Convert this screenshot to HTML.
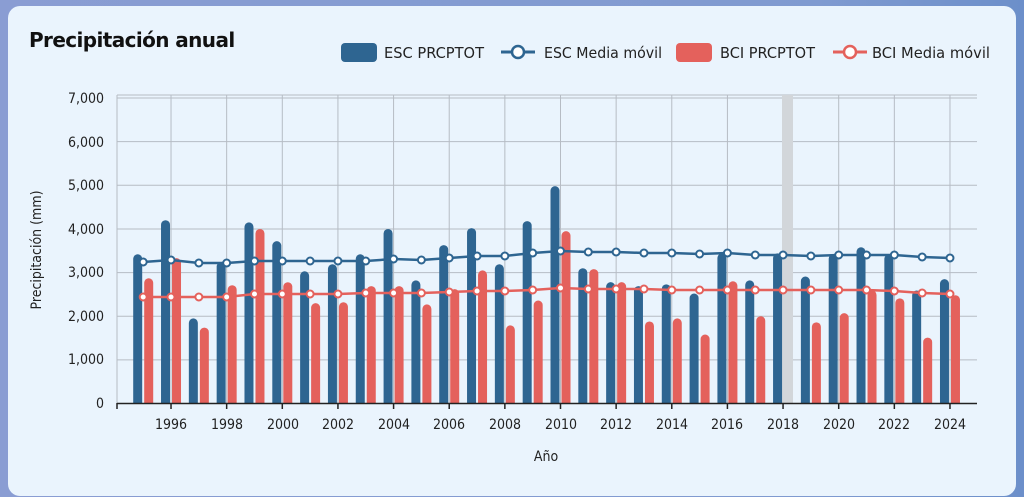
<!DOCTYPE html>
<html><head><meta charset="utf-8"><style>
html,body{margin:0;padding:0;width:1024px;height:497px;overflow:hidden;background:linear-gradient(90deg,#8a9dd3,#7f9ad0 80%,#6c8fca);font-family:"Liberation Sans",sans-serif}
.card{position:absolute;left:8px;top:6px;width:1008px;height:490px;background:#eaf4fd;border-radius:12px}
svg{position:absolute;left:0;top:0}
text{font-family:"DejaVu Sans Condensed","Liberation Sans",sans-serif;fill:#222}
</style></head><body>
<div class="card"></div>
<svg width="1024" height="497" id="s">
<text x="29" y="47" style="font-family:'DejaVu Sans','Liberation Sans',sans-serif;font-weight:bold;font-size:20px;fill:#111;letter-spacing:-0.6px">Precipitación anual</text>
<g>
<rect x="341" y="43" width="36" height="19" rx="4" fill="#2e6591"/>
<text x="384" y="58" textLength="100" lengthAdjust="spacingAndGlyphs" style="font-size:15px">ESC PRCPTOT</text>
<line x1="501" y1="52" x2="535" y2="52" stroke="#2e6591" stroke-width="3"/>
<circle cx="518" cy="52" r="6" fill="#fff" stroke="#2e6591" stroke-width="2.5"/>
<text x="544" y="58" textLength="118" lengthAdjust="spacingAndGlyphs" style="font-size:15px">ESC Media móvil</text>
<rect x="676" y="43" width="36" height="19" rx="4" fill="#e4615c"/>
<text x="720" y="58" textLength="95" lengthAdjust="spacingAndGlyphs" style="font-size:15px">BCI PRCPTOT</text>
<line x1="833" y1="52" x2="867" y2="52" stroke="#e4615c" stroke-width="3"/>
<circle cx="850" cy="52" r="6" fill="#fff" stroke="#e4615c" stroke-width="2.5"/>
<text x="872" y="58" textLength="118" lengthAdjust="spacingAndGlyphs" style="font-size:15px">BCI Media móvil</text>
</g>
<g id="grid"></g>
<g text-anchor="end" style="font-size:14px">
<text x="104" y="103">7,000</text><text x="104" y="147">6,000</text><text x="104" y="190">5,000</text><text x="104" y="234">4,000</text><text x="104" y="277">3,000</text><text x="104" y="321">2,000</text><text x="104" y="364">1,000</text><text x="104" y="408">0</text>
</g>
<g text-anchor="middle" style="font-size:14px">
<text x="171" y="429">1996</text><text x="227" y="429">1998</text><text x="283" y="429">2000</text><text x="338" y="429">2002</text><text x="394" y="429">2004</text><text x="449" y="429">2006</text><text x="505" y="429">2008</text><text x="561" y="429">2010</text><text x="616" y="429">2012</text><text x="672" y="429">2014</text><text x="727" y="429">2016</text><text x="783" y="429">2018</text><text x="839" y="429">2020</text><text x="894" y="429">2022</text><text x="950" y="429">2024</text>
<text x="546" y="461">Año</text>
<text transform="translate(41,250) rotate(-90)" style="font-size:14px">Precipitación (mm)</text>
</g>
</svg>
<script>
var s=document.getElementById('s'),g=document.getElementById('grid'),NS='http://www.w3.org/2000/svg';
function el(t,a,p){var e=document.createElementNS(NS,t);for(var k in a)e.setAttribute(k,a[k]);(p||g).appendChild(e);return e;}
var X=function(i){return 143.2+i*27.82},Y=function(v){return 403.5-v*0.04364};
for(var v=0;v<=7000;v+=1000)el('line',{x1:117,x2:977,y1:Y(v),y2:Y(v),stroke:'#b6bcc4','stroke-width':1});
el('line',{x1:117,x2:977,y1:95,y2:95,stroke:'#b6bcc4'});
el('line',{x1:117,x2:117,y1:95,y2:403,stroke:'#b6bcc4'});
for(var i=1;i<30;i+=2)el('line',{x1:X(i),x2:X(i),y1:95,y2:403,stroke:'#b6bcc4'});
el('rect',{x:782,y:95,width:11,height:308,fill:'#d2d6da'});
var E=[3420,4200,1950,3240,4150,3720,3030,3190,3420,4000,2820,3630,4020,3190,4180,4980,3100,2780,2690,2730,2520,3440,2820,3440,2910,3420,3580,3420,2590,2850];
var B=[2870,3330,1740,2710,4000,2780,2300,2320,2690,2690,2270,2620,3050,1790,2360,3950,3080,2780,1880,1950,1580,2800,2000,null,1860,2070,2590,2410,1510,2480];
var EM=[262,260,263,263,261,261,261,261,261,259,260,258,256,256,253,251,252,252,253,253,254,253,255,255,256,255,255,255,257,258];
var BM=[297,297,297,297,294,294,294,294,293,293,293,292,291,291,290,288,289,289,289,290,290,290,290,290,290,290,290,291,293,294];
function bar(x,v,c){if(v==null)return;var y=Y(v);el('path',{d:'M'+x+' 403.5V'+(y+4.5)+'a4.5 4.5 0 0 1 9 0V403.5Z',fill:c});}
for(var i=0;i<30;i++){bar(X(i)-10,E[i],'#2e6591');bar(X(i)+1,B[i],'#e4615c');}
function line(a,c){var d='';a.forEach(function(y,i){d+=(i?'L':'M')+X(i)+' '+y;});el('path',{d:d,fill:'none',stroke:c,'stroke-width':2.5});a.forEach(function(y,i){el('circle',{cx:X(i),cy:y,r:3.5,fill:'#fff',stroke:c,'stroke-width':2});});}
line(EM,'#2e6591');line(BM,'#e4615c');
el('line',{x1:117,x2:977,y1:403.5,y2:403.5,stroke:'#222','stroke-width':1.5});
el('line',{x1:117,x2:117,y1:403,y2:409,stroke:'#222','stroke-width':1.5});
for(var i=1;i<30;i+=2)el('line',{x1:X(i),x2:X(i),y1:403,y2:409,stroke:'#222','stroke-width':1.5});
</script>
</body></html>
